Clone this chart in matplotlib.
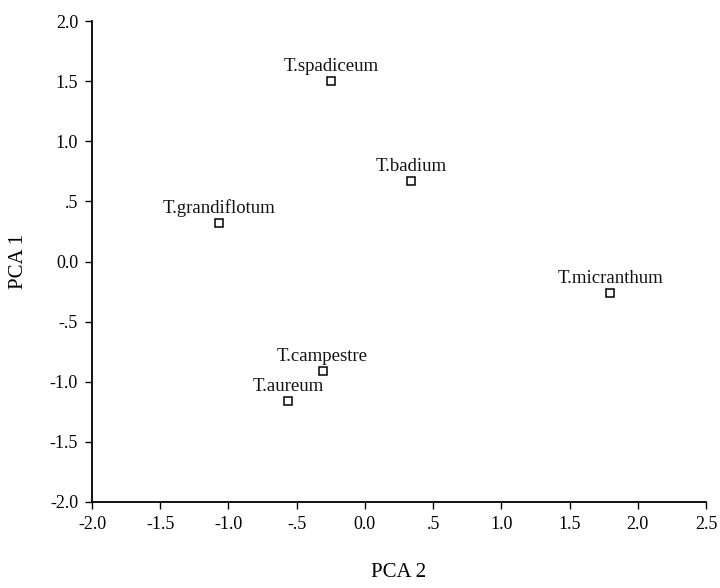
import matplotlib
matplotlib.use("Agg")
import matplotlib.pyplot as plt

species = ["T.spadiceum", "T.badium", "T.grandiflotum", "T.micranthum",
           "T.campestre", "T.aureum"]
pca2 = [-0.25, 0.34, -1.07, 1.80, -0.31, -0.56]
pca1 = [1.50, 0.67, 0.32, -0.26, -0.91, -1.16]

xticks = [-2.0, -1.5, -1.0, -0.5, 0.0, 0.5, 1.0, 1.5, 2.0, 2.5]
xticklabels = ["-2.0", "-1.5", "-1.0", "-.5", "0.0", ".5", "1.0", "1.5", "2.0", "2.5"]
yticks = [-2.0, -1.5, -1.0, -0.5, 0.0, 0.5, 1.0, 1.5, 2.0]
yticklabels = ["-2.0", "-1.5", "-1.0", "-.5", "0.0", ".5", "1.0", "1.5", "2.0"]

plt.rcParams['font.family'] = ['Liberation Serif', 'DejaVu Serif']

fig = plt.figure(figsize=(7.2, 5.88), dpi=100)
ax = fig.add_axes([92/720, 1-502/588, (706-92)/720, (502-21)/588])

ax.plot(pca2, pca1, linestyle='none', marker='s', markersize=5.5,
        markerfacecolor='white', markeredgecolor='black', markeredgewidth=1.1)
for name, x, y in zip(species, pca2, pca1):
    ax.annotate(name, (x, y), xytext=(0, 4.5), textcoords='offset points',
                ha='center', va='bottom', fontsize=13.5, color='#111111')

ax.set_xlim(-2.0, 2.5)
ax.set_ylim(-2.0, 2.0)
ax.set_xticks(xticks)
ax.set_xticklabels(xticklabels)
ax.set_yticks(yticks)
ax.set_yticklabels(yticklabels)
ax.spines['top'].set_visible(False)
ax.spines['right'].set_visible(False)
ax.spines['left'].set_linewidth(1.3)
ax.spines['bottom'].set_linewidth(1.3)
ax.tick_params(direction='out', length=5, width=1, labelsize=13, pad=5)
ax.set_xlabel("PCA 2", fontsize=15, labelpad=22)
ax.set_ylabel("PCA 1", fontsize=15, labelpad=16)

fig.savefig("out.png", dpi=100)
